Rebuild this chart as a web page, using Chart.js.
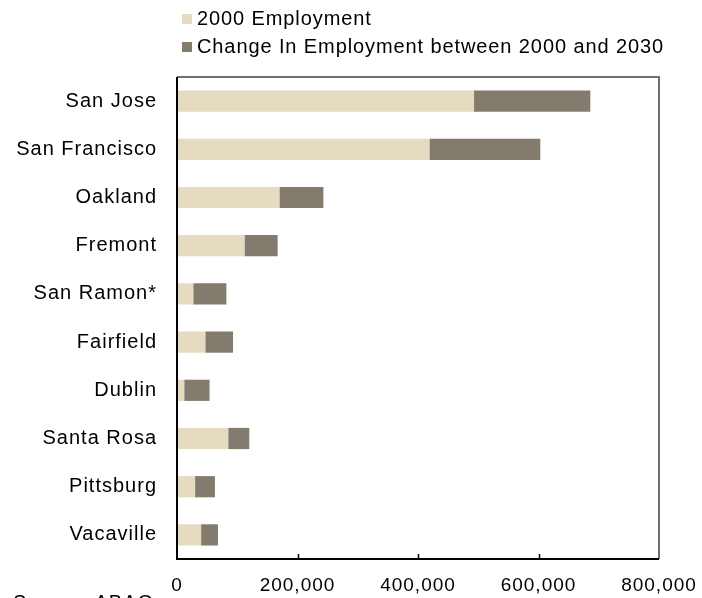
<!DOCTYPE html>
<html>
<head>
<meta charset="utf-8">
<script src="https://cdn.jsdelivr.net/npm/chart.js@4"></script>
<style>
  html, body { margin: 0; padding: 0; background: #fff; overflow: hidden; }
  #wrap { position: relative; width: 702px; height: 598px; font-family: 'Liberation Sans', Arial, sans-serif; color: #000; }
  #chart { position: absolute; left: 0; top: 0; }
  .leg { position: absolute; left: 182px; font-size: 20px; line-height: 22px; letter-spacing: 0.9px; white-space: nowrap; }
  .leg i { display: inline-block; width: 10px; height: 10px; margin-right: 5px; vertical-align: 1px; }
  #source { position: absolute; left: 13px; top: 592px; font-size: 20px; line-height: 20px; letter-spacing: 1px; white-space: nowrap; }
</style>
</head>
<body>
<div id="wrap">
  <canvas id="chart" width="702" height="598"></canvas>
  <div class="leg" style="top:7px"><i style="background:#E5DBC1"></i>2000 Employment</div>
  <div class="leg" style="top:35px"><i style="background:#847B6F"></i>Change In Employment between 2000 and 2030</div>
  <div id="source">Source: ABAG</div>
</div>
<script>
// data
const cities = ['San Jose', 'San Francisco', 'Oakland', 'Fremont', 'San Ramon*',
  'Fairfield', 'Dublin', 'Santa Rosa', 'Pittsburg', 'Vacaville'];
const employment2000 = [493000, 419000, 170000, 112000, 27000, 47000, 12000, 85000, 30000, 40000];
const change2000to2030 = [193000, 184000, 73000, 55000, 55000, 46000, 42000, 35000, 33000, 28000];
const xTicks = [0, 200000, 400000, 600000, 800000];

const beige = '#E5DBC1';
const taupe = '#847B6F';
const family = "'Liberation Sans', Arial, sans-serif";

// the original text is set a little wide; canvas resize wipes ctx state, so set it before drawing
const spacingPlugin = {
  id: 'spacing',
  beforeDraw(chart) { chart.ctx.letterSpacing = '1px'; }
};

// grey frame on top/right plus short inward tick marks on the bottom axis
const framePlugin = {
  id: 'frame',
  afterDraw(chart) {
    const { ctx, chartArea: a, scales } = chart;
    ctx.save();
    ctx.strokeStyle = '#6e6e6e';
    ctx.lineWidth = 2;
    ctx.beginPath();
    ctx.moveTo(a.left, a.top);
    ctx.lineTo(a.right, a.top);
    ctx.lineTo(a.right, a.bottom);
    ctx.stroke();
    ctx.strokeStyle = '#000';
    ctx.beginPath();
    ctx.moveTo(a.left, a.top);
    ctx.lineTo(a.left, a.bottom);
    ctx.lineTo(a.right, a.bottom);
    ctx.stroke();
    ctx.lineWidth = 1.5;
    xTicks.slice(1, -1).forEach(v => {
      const x = Math.round(scales.x.getPixelForValue(v)) + 0.5;
      ctx.beginPath();
      ctx.moveTo(x, a.bottom);
      ctx.lineTo(x, a.bottom - 5);
      ctx.stroke();
    });
    ctx.restore();
  }
};

new Chart(document.getElementById('chart'), {
  type: 'bar',
  data: {
    labels: cities,
    datasets: [
      { label: '2000 Employment', data: employment2000, backgroundColor: beige },
      { label: 'Change In Employment between 2000 and 2030', data: change2000to2030, backgroundColor: taupe }
    ]
  },
  options: {
    indexAxis: 'y',
    responsive: false,
    animation: false,
    barPercentage: 0.44,
    categoryPercentage: 1,
    layout: { padding: { top: 77, right: 43, left: 0, bottom: 0 } },
    plugins: { legend: { display: false }, tooltip: { enabled: false } },
    scales: {
      x: {
        stacked: true,
        min: 0,
        max: 800000,
        afterBuildTicks: s => { s.ticks = xTicks.map(v => ({ value: v })); },
        afterFit: s => { s.height = 39; s.paddingLeft = 0; s.paddingRight = 0; },
        grid: { display: false, drawTicks: false },
        border: { display: false },
        ticks: {
          padding: 15,
          color: '#000',
          font: { family, size: 19 },
          maxRotation: 0,
          callback: v => v.toLocaleString('en-US')
        }
      },
      y: {
        stacked: true,
        afterFit: s => { s.width = 177; s.paddingTop = 0; s.paddingBottom = 0; },
        grid: { display: false, drawTicks: false },
        border: { display: false },
        ticks: { padding: 20, color: '#000', font: { family, size: 20 } }
      }
    }
  },
  plugins: [spacingPlugin, framePlugin]
});
</script>
</body>
</html>
